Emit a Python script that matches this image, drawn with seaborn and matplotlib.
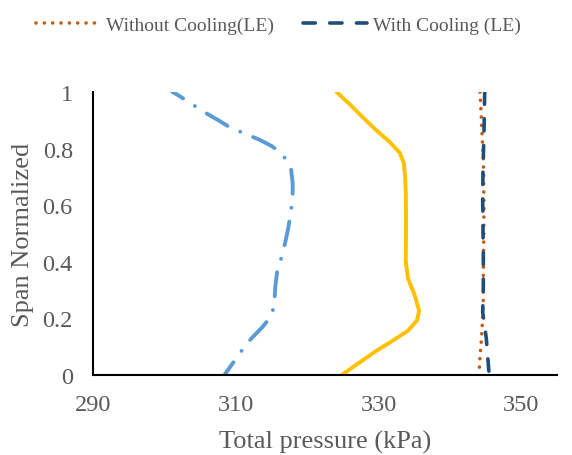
import matplotlib
matplotlib.use("Agg")
import matplotlib.pyplot as plt
import seaborn as sns

# ---- data ----
blue_x = [301.13, 301.97, 303.75, 305.71, 307.57, 309.06, 311.16, 313.26, 315.03,
          316.52, 317.73, 317.97, 317.97, 317.73, 317.36, 316.90, 316.34, 315.82,
          315.54, 315.40, 315.03, 313.72, 312.14, 310.74, 308.41]
blue_y = [1.0, 0.988, 0.959, 0.927, 0.900, 0.877, 0.854, 0.832, 0.809,
          0.781, 0.732, 0.677, 0.630, 0.577, 0.520, 0.465, 0.411, 0.370,
          0.313, 0.252, 0.210, 0.169, 0.128, 0.083, 0.0]

yellow_x = [324.13, 326.0, 327.85, 329.72, 331.58, 332.98, 333.54, 333.72, 333.82,
            333.85, 333.82, 334.14, 335.08, 335.68, 335.40, 334.14, 332.04, 329.72,
            327.39, 324.83]
yellow_y = [1.0, 0.956, 0.909, 0.864, 0.823, 0.785, 0.749, 0.702, 0.643,
            0.55, 0.400, 0.340, 0.281, 0.228, 0.193, 0.157, 0.122, 0.086,
            0.045, 0.0]

orange_x = [344.21, 344.40, 344.49, 344.68, 344.73, 344.77, 344.73, 344.68, 344.68,
            344.54, 344.40, 344.21, 344.07]
orange_y = [1.0, 0.910, 0.855, 0.766, 0.677, 0.589, 0.470, 0.352, 0.27,
            0.181, 0.122, 0.063, 0.0]

navy_x = [344.87, 344.82, 344.73, 344.63, 344.59, 344.63, 344.68, 344.68, 344.59,
          345.10, 345.43, 345.5]
navy_y = [1.0, 0.916, 0.819, 0.719, 0.624, 0.518, 0.423, 0.317, 0.222,
          0.128, 0.021, 0.0]

x_ticks = [290, 310, 330, 350]
y_ticks = [0, 0.2, 0.4, 0.6, 0.8, 1.0]
y_tick_labels = ["0", "0.2", "0.4", "0.6", "0.8", "1"]

label_without = "Without Cooling(LE)"
label_with = "With Cooling (LE)"

# ---- style ----
sns.set_style("white")
plt.rcParams["font.family"] = ["Liberation Serif", "DejaVu Serif"]
gray = "#595959"

fig = plt.figure(figsize=(5.72, 4.56), dpi=100)
ax = fig.add_axes([93/572, 1-376/456, (557-93)/572, (376-93)/456])

sns.lineplot(x=blue_x, y=blue_y, sort=False, estimator=None, ax=ax,
             color="#5B9BD5", linewidth=2.8)
ax.lines[-1].set_linestyle((3.0, (6.2, 3.6, 0.01, 3.6)))
ax.lines[-1].set_dash_capstyle("round")

sns.lineplot(x=yellow_x, y=yellow_y, sort=False, estimator=None, ax=ax,
             color="#FFC000", linewidth=2.8)
ax.lines[-1].set_solid_joinstyle("round")
ax.lines[-1].set_solid_capstyle("round")

sns.lineplot(x=orange_x, y=orange_y, sort=False, estimator=None, ax=ax,
             color="#C55A11", linewidth=2.6, label=label_without)
ax.lines[-1].set_dashes([0.01, 2.3])
ax.lines[-1].set_dash_capstyle("round")

sns.lineplot(x=navy_x, y=navy_y, sort=False, estimator=None, ax=ax,
             color="#1F4E79", linewidth=2.6, label=label_with)
ax.lines[-1].set_dashes([3.4, 4.0])
ax.lines[-1].set_dash_capstyle("round")

ax.set_xlim(290, 355)
ax.set_ylim(0, 1)
ax.set_xticks(x_ticks)
ax.set_yticks(y_ticks)
ax.set_yticklabels(y_tick_labels)

for s in ["top", "right"]:
    ax.spines[s].set_visible(False)
for s in ["left", "bottom"]:
    ax.spines[s].set_color("black")
    ax.spines[s].set_linewidth(1.5)

ax.tick_params(axis="both", direction="inout", length=9, width=1.5,
               color="black", labelcolor=gray, labelsize=17.5)
ax.tick_params(axis="x", pad=9)
ax.tick_params(axis="y", pad=10)

ax.set_xlabel("Total pressure (kPa)", fontsize=19, color=gray, labelpad=11)
ax.set_ylabel("Span Normalized", fontsize=19, color=gray, labelpad=6)

ax.get_legend().remove()
handles, labels = ax.get_legend_handles_labels()
leg = fig.legend(handles, labels, loc="center", bbox_to_anchor=(278.5/572, 1-26/456),
                 ncol=2, frameon=False, fontsize=14, handlelength=3.3,
                 handletextpad=0.3, columnspacing=1.5)
for t in leg.get_texts():
    t.set_color(gray)

fig.savefig("out.png", dpi=100)
